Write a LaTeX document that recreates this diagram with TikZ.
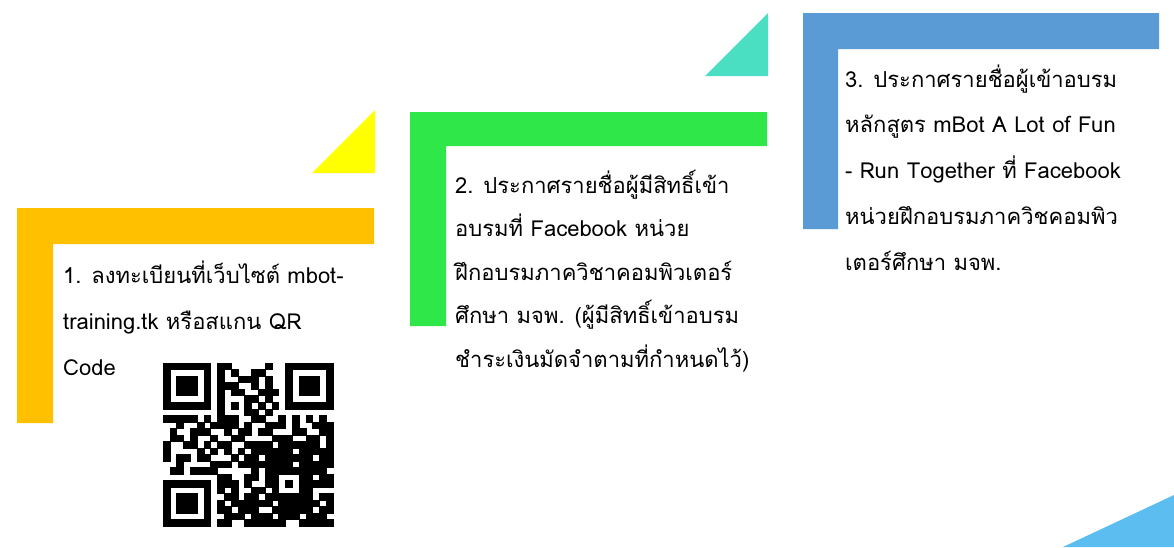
\documentclass[tikz,border=0pt]{standalone}
\usepackage{fontspec}
\setmainfont[Script=Thai]{Loma}
\definecolor{cyellow}{RGB}{255,255,0}
\definecolor{corange}{RGB}{255,192,0}
\definecolor{cgreen}{RGB}{48,231,74}
\definecolor{cteal}{RGB}{74,222,194}
\definecolor{cblue}{RGB}{91,155,213}
\definecolor{clightblue}{RGB}{92,190,240}
\def\qrparse#1{\ifx#1\relax\else\ifnum#1=1 \fill[black,draw=black,line width=0.3pt] (\qrc,\qrr) rectangle +(1,1);\fi\edef\qrc{\the\numexpr\qrc+1\relax}\expandafter\qrparse\fi}
\tikzset{
  steptext/.style={anchor=north west, inner sep=0pt, align=left, text=black},
}
\begin{document}
\begin{tikzpicture}[x=1pt,y=-1pt]
\useasboundingbox (0,0) rectangle (1174,547);
\fill[white] (0,0) rectangle (1174,547);
% triangles
\fill[cyellow] (312,173) -- (375,173) -- (375,110) -- cycle;
\fill[cteal] (705,76) -- (768,76) -- (768,13) -- cycle;
\fill[clightblue] (1063,547) -- (1174,495) -- (1174,547) -- cycle;
% L frames
\fill[corange] (17,208) -- (374,208) -- (374,244) -- (53,244) -- (53,423) -- (17,423) -- cycle;
\fill[cgreen] (410,112) -- (767,112) -- (767,146) -- (446,146) -- (446,326) -- (410,326) -- cycle;
\fill[cblue] (803,13) -- (1159,13) -- (1159,49) -- (838,49) -- (838,229) -- (803,229) -- cycle;
% texts
\node[steptext, font=\fontsize{22}{46}\selectfont] (t1) at (63,253)
  {\rule{0pt}{30pt}1. ลงทะเบียนที่เว็บไซต์ mbot-\\training.tk หรือสแกน QR\\Code};
\node[steptext, font=\fontsize{22}{43.5}\selectfont] (t2) at (455,163)
  {\rule{0pt}{30pt}2. ประกาศรายชื่อผู้มีสิทธิ์เข้า\\อบรมที่ Facebook หน่วย\\ฝึกอบรมภาควิชาคอมพิวเตอร์\\ศึกษา มจพ. (ผู้มีสิทธิ์เข้าอบรม\\ชำระเงินมัดจำตามที่กำหนดไว้)};
\node[steptext, font=\fontsize{22}{45.7}\selectfont] (t3) at (845,57)
  {\rule{0pt}{30pt}3. ประกาศรายชื่อผู้เข้าอบรม\\หลักสูตร mBot A Lot of Fun\\- Run Together ที่ Facebook\\หน่วยฝึกอบรมภาควิชคอมพิว\\เตอร์ศึกษา มจพ.};
% QR code
\begin{scope}[shift={(163,363)}, x=6.8pt, y=-6.52pt]
\foreach \qrr/\s in {
0/1111111011000001001111111,
1/1000001010100110001000001,
2/1011101010011101001011101,
3/1011101011100101001011101,
4/1011101010110011101011101,
5/1000001010001101001000001,
6/1111111010101010101111111,
7/0000000010001101000000000,
8/1111101011100110010101010,
9/0010010111101001110100111,
10/0100111001011011000110011,
11/0110100100110000111001101,
12/1001101011001111011111101,
13/1000010101010111111011111,
14/1011011000101101111111011,
15/0010000111011111111011111,
16/0110111100000101111111110,
17/0000000011001101100011011,
18/1111111011101001101011111,
19/1000001010100110100011000,
20/1011101001101101111111011,
21/1011101010111111011111101,
22/1011101011011100111111011,
23/1000001001110111011101110,
24/1111111011001111110011111}
{\def\qrc{0}\expandafter\qrparse\s\relax}
\end{scope}
\end{tikzpicture}
\end{document}
